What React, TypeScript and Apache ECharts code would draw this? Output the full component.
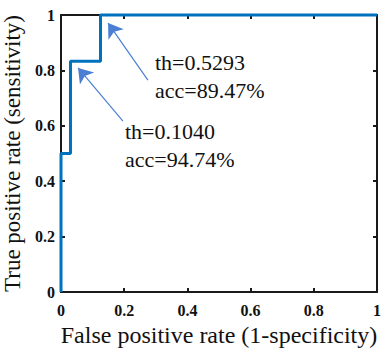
import React, { useEffect, useRef } from "react";
import * as echarts from "echarts";

const fprValues = [0, 0, 0.03, 0.03, 0.125, 0.125, 1];
const tprValues = [0, 0.5, 0.5, 0.833, 0.833, 1, 1];
const arrowFrom = [
  [0.275, 0.765],
  [0.196, 0.617],
];
const arrowTo = [
  [0.149, 0.971],
  [0.054, 0.809],
];
const annotationLines = [
  ["th=0.5293", "acc=89.47%"],
  ["th=0.1040", "acc=94.74%"],
];
const xTitle = "False positive rate (1-specificity)";
const yTitle = "True positive rate (sensitivity)";

const FONT = "Liberation Serif";

export default function App() {
  const ref = useRef<HTMLDivElement>(null);
  useEffect(() => {
    if (!ref.current) return;
    document.body.style.margin = "0";
    const chart = echarts.init(ref.current, null, { renderer: "svg" });
    const grid = { left: 61, right: 4, top: 15, bottom: 58, outerBoundsMode: "none", containLabel: false };
    const axisCommon = {
      type: "value" as const,
      min: 0,
      max: 1,
      interval: 0.2,
      splitLine: { show: false },
      axisLine: { show: true, onZero: false, lineStyle: { color: "#1a1a1a", width: 2 } },
      axisTick: { show: true, inside: true, length: 4, lineStyle: { color: "#1a1a1a", width: 2 } },
    };
    const annPos = [
      [155, 62],
      [125, 131],
    ];
    const graphics: any[] = [];
    annotationLines.forEach((lines, i) => {
      lines.forEach((t, j) => {
        graphics.push({
          type: "text",
          left: annPos[i][0],
          top: annPos[i][1] - 11 + j * 28,
          style: { text: t, fontFamily: FONT, fontSize: 22, fill: "#111" },
        });
      });
    });
    chart.setOption({
      animation: false,
      textStyle: { fontFamily: FONT },
      grid,
      xAxis: [
        {
          ...axisCommon,
          position: "bottom",
          name: xTitle,
          nameLocation: "middle",
          nameGap: 29,
          nameTextStyle: { fontFamily: FONT, fontSize: 24, color: "#111" },
          axisLabel: { fontFamily: FONT, fontSize: 16, fontWeight: "bold", color: "#111", margin: 10 },
        },
        { ...axisCommon, position: "top", axisLabel: { show: false } },
      ],
      yAxis: [
        {
          ...axisCommon,
          position: "left",
          name: yTitle,
          nameLocation: "middle",
          nameGap: 25,
          nameTextStyle: { fontFamily: FONT, fontSize: 23, color: "#111" },
          axisLabel: { fontFamily: FONT, fontSize: 16, fontWeight: "bold", color: "#111", margin: 6 },
        },
        { ...axisCommon, position: "right", axisLabel: { show: false } },
      ],
      series: [
        {
          type: "line",
          data: fprValues.map((x, i) => [x, tprValues[i]]),
          showSymbol: false,
          clip: false,
          lineStyle: { color: "#0072BD", width: 3 },
          z: 5,
        },
        {
          type: "lines",
          coordinateSystem: "cartesian2d",
          symbol: ["none", "arrow"],
          symbolSize: [11, 14],
          lineStyle: { color: "#4a7fd4", width: 1.2, opacity: 1 },
          data: arrowFrom.map((f, i) => ({ coords: [f, arrowTo[i]] })),
          z: 6,
        },
      ],
      graphic: graphics,
    });
    return () => chart.dispose();
  }, []);
  return <div ref={ref} style={{ width: 381, height: 350 }} />;
}
